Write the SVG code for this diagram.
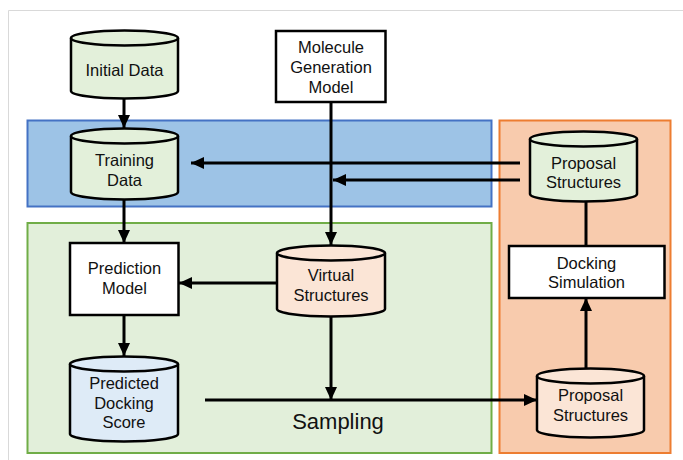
<svg xmlns="http://www.w3.org/2000/svg" width="683" height="460" viewBox="0 0 683 460">
<style>
text{font-family:"Liberation Sans",Arial,sans-serif;font-size:16.5px;fill:#111;text-anchor:middle;dominant-baseline:central}
.box{fill:#fff;stroke:#000;stroke-width:2.5}
.cyl{stroke:#000;stroke-width:2.5}
.g{fill:#e3f0da}.p{fill:#fbe5d6}.b{fill:#deebf7}
.c{stroke:#000;stroke-width:3;fill:none}
.a{marker-end:url(#ah)}
</style>
<defs>
<marker id="ah" markerUnits="userSpaceOnUse" markerWidth="14" markerHeight="14" viewBox="0 0 14 14" refX="13" refY="7" orient="auto">
<path d="M0,1 L13,7 L0,13 Z" fill="#000"/>
</marker>
</defs>
<rect width="683" height="460" fill="#fff"/>
<path d="M8.5,460 V10.5 H683" fill="none" stroke="#d9d9d9" stroke-width="1"/>
<g id="region-training"><rect x="27.5" y="120.5" width="464" height="86" fill="#9dc3e6" stroke="#4472c4" stroke-width="2"/></g>
<g id="region-sampling"><rect x="27.5" y="223" width="464" height="230" fill="#e2efda" stroke="#70ad47" stroke-width="2"/></g>
<g id="region-docking"><rect x="499.5" y="120.5" width="171" height="332.5" fill="#f8cbad" stroke="#ed7d31" stroke-width="2"/></g>

<g id="connectors">
<line class="c a" x1="124" y1="98" x2="124" y2="128"/>
<line class="c a" x1="124" y1="200" x2="124" y2="243"/>
<line class="c a" x1="331" y1="102" x2="331" y2="245"/>
<line class="c a" x1="520" y1="163" x2="191" y2="163"/>
<line class="c a" x1="520" y1="180" x2="333" y2="180"/>
<line class="c a" x1="277" y1="283" x2="179" y2="283"/>
<line class="c a" x1="124" y1="315" x2="124" y2="356"/>
<line class="c a" x1="331" y1="317" x2="331" y2="400"/>
<line class="c a" x1="205" y1="400" x2="537" y2="400"/>
<line class="c" x1="586" y1="200" x2="586" y2="246"/>
<line class="c a" x1="586" y1="368" x2="586" y2="298"/>
</g>

<g id="initial-data">
<path class="cyl g" d="M71,38 V91 A53.5,7.5 0 0 0 178,91 V38"/>
<ellipse class="cyl g" cx="124.5" cy="38" rx="53.5" ry="7.5"/>
<text x="124.5" y="70">Initial Data</text>
</g>
<g id="molecule-generation-model">
<rect class="box" x="276" y="31" width="109.5" height="71"/>
<text x="331" y="47">Molecule</text>
<text x="331" y="67">Generation</text>
<text x="331" y="87">Model</text>
</g>
<g id="training-data">
<path class="cyl g" d="M71,136 V192 A53.5,7.5 0 0 0 178,192 V136"/>
<ellipse class="cyl g" cx="124.5" cy="136" rx="53.5" ry="7.5"/>
<text x="124.5" y="160">Training</text>
<text x="124.5" y="180">Data</text>
</g>
<g id="proposal-structures-top">
<path class="cyl g" d="M530,139 V194 A53.5,7.5 0 0 0 637,194 V139"/>
<ellipse class="cyl g" cx="583.5" cy="139" rx="53.5" ry="7.5"/>
<text x="583.5" y="163">Proposal</text>
<text x="583.5" y="182">Structures</text>
</g>
<g id="prediction-model">
<rect class="box" x="70" y="243" width="108.5" height="72"/>
<text x="124.5" y="268">Prediction</text>
<text x="124.5" y="288">Model</text>
</g>
<g id="virtual-structures">
<path class="cyl p" d="M277,253 V309 A54,7.5 0 0 0 385,309 V253"/>
<ellipse class="cyl p" cx="331" cy="253" rx="54" ry="7.5"/>
<text x="331" y="275">Virtual</text>
<text x="331" y="295">Structures</text>
</g>
<g id="predicted-docking-score">
<path class="cyl b" d="M70,364 V434 A54,7.5 0 0 0 178,434 V364"/>
<ellipse class="cyl b" cx="124" cy="364" rx="54" ry="7.5"/>
<text x="124" y="383">Predicted</text>
<text x="124" y="403">Docking</text>
<text x="124" y="422">Score</text>
</g>
<g id="docking-simulation">
<rect class="box" x="509" y="246" width="155.5" height="52"/>
<text x="586.5" y="263">Docking</text>
<text x="586.5" y="282">Simulation</text>
</g>
<g id="proposal-structures-bottom">
<path class="cyl p" d="M537,376 V430 A53.5,7.5 0 0 0 644,430 V376"/>
<ellipse class="cyl p" cx="590.5" cy="376" rx="53.5" ry="7.5"/>
<text x="590.5" y="395">Proposal</text>
<text x="590.5" y="415">Structures</text>
</g>
<g id="sampling-label"><text x="338" y="421" style="font-size:22px">Sampling</text></g>
</svg>
